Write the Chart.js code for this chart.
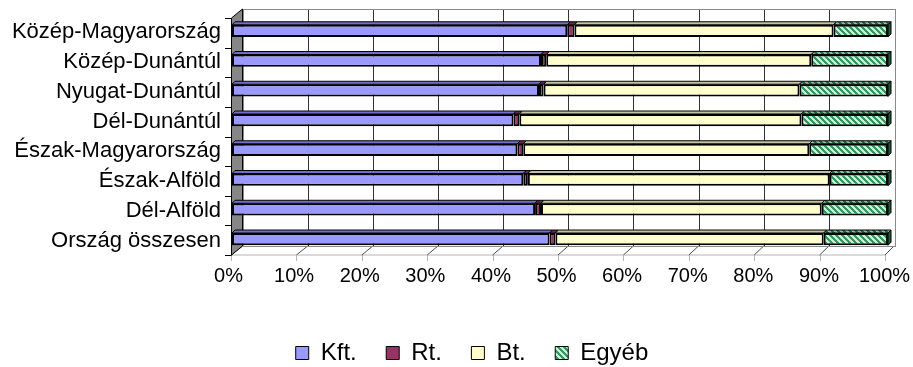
<!DOCTYPE html>
<html>
<head>
<meta charset="utf-8">
<script src="https://cdn.jsdelivr.net/npm/chart.js@4.4.1/dist/chart.umd.min.js"></script>
<style>
  html, body { margin: 0; padding: 0; background: #ffffff; overflow: hidden; }
  #wrap { width: 913px; height: 367px; }
</style>
</head>
<body>
<div id="wrap"><canvas id="c" width="913" height="367"></canvas></div>
<script>
// Regions (top to bottom)
const regions = [
  'Közép-Magyarország', 'Közép-Dunántúl', 'Nyugat-Dunántúl', 'Dél-Dunántúl',
  'Észak-Magyarország', 'Észak-Alföld', 'Dél-Alföld', 'Ország összesen'
];
// Share of company forms per region, %
const kft   = [51.1, 47.1, 46.8, 42.9, 43.5, 44.4, 46.2, 48.4];
const rt    = [1.1, 0.8, 0.7, 0.9, 0.9, 0.7, 0.9, 0.9];
const bt    = [39.5, 40.4, 39.0, 43.0, 43.6, 46.0, 42.8, 40.9];
const egyeb = [8.3, 11.7, 13.5, 13.2, 12.0, 8.9, 10.1, 9.8];
const seriesNames = ['Kft.', 'Rt.', 'Bt.', 'Egyéb'];
const xTickLabels = ['0%', '10%', '20%', '30%', '40%', '50%', '60%', '70%', '80%', '90%', '100%'];

const FONT = "'Liberation Sans', Arial, sans-serif";
const canvas = document.getElementById('c');
const mainCtx = canvas.getContext('2d');

// diagonal hatch used for the "Egyéb" series
function hatch(fg, bg) {
  const t = document.createElement('canvas');
  t.width = 6; t.height = 6;
  const g = t.getContext('2d');
  g.fillStyle = bg; g.fillRect(0, 0, 6, 6);
  g.fillStyle = fg;
  for (let yy = 0; yy < 6; yy++)
    for (let xx = 0; xx < 6; xx++)
      if ((((xx - yy) % 6) + 6) % 6 < 3) g.fillRect(xx, yy, 1, 1);
  return mainCtx.createPattern(t, 'repeat');
}
const greenHatch = hatch('#2f9960', '#cdeed6');
const greenHatchDark = hatch('#236b47', '#93bfa0');

const topColors = ['#7070cc', '#6e2448', '#c4c4a0', greenHatchDark];
const DEPTH = 3;

// Walls, floor and back gridlines of the 3-D box
const boxPlugin = {
  id: 'box3d',
  beforeDatasetsDraw(chart) {
    const { ctx, chartArea: a, scales } = chart;
    const x = scales.x, y = scales.y;
    const fL = a.left - 1, fR = a.right - 3, fT = a.top + 2, fB = a.bottom + 1;
    const bL = a.left + 10.5, bR = a.right + 6, bT = a.top - 7, bB = a.bottom - 8;
    const frac = v => (x.getPixelForValue(v) - a.left) / a.width;
    const fx = v => fL + frac(v) * (fR - fL);
    const bx = v => bL + frac(v) * (bR - bL);
    const vals = x.ticks.map(t => t.value);

    ctx.save();
    ctx.lineWidth = 1;

    // floor
    ctx.beginPath();
    ctx.moveTo(fL, fB); ctx.lineTo(bL, bB); ctx.lineTo(bR, bB); ctx.lineTo(fR, fB); ctx.closePath();
    ctx.fillStyle = '#ffffff'; ctx.fill();
    ctx.strokeStyle = '#b4b4b4'; ctx.stroke();

    // back wall
    ctx.fillStyle = '#ffffff';
    ctx.fillRect(bL, bT, bR - bL, bB - bT);

    // back gridlines and their run across the floor
    ctx.strokeStyle = '#333333';
    vals.forEach(v => {
      const px = Math.round(bx(v)) + 0.5;
      if (v > 0 && v < 100) {
        ctx.beginPath(); ctx.moveTo(px, bT); ctx.lineTo(px, bB); ctx.stroke();
      }
    });
    ctx.strokeStyle = '#505050';
    vals.forEach(v => {
      ctx.beginPath(); ctx.moveTo(fx(v), fB); ctx.lineTo(bx(v), bB); ctx.stroke();
    });

    // back wall outline
    ctx.strokeStyle = '#8a8a8a';
    ctx.strokeRect(Math.round(bL) + 0.5, Math.round(bT) + 0.5, Math.round(bR - bL), Math.round(bB - bT));

    // floor front tick marks
    ctx.strokeStyle = '#b4b4b4';
    vals.forEach(v => {
      const px = Math.round(fx(v)) + 0.5;
      ctx.beginPath(); ctx.moveTo(px, fB); ctx.lineTo(px, fB + 6); ctx.stroke();
    });

    // left wall
    ctx.beginPath();
    ctx.moveTo(fL + 0.5, fT); ctx.lineTo(bL, bT); ctx.lineTo(bL, bB); ctx.lineTo(fL + 0.5, fB); ctx.closePath();
    ctx.fillStyle = '#868686'; ctx.fill();
    ctx.strokeStyle = '#000000'; ctx.stroke();

    // category tick marks along the front edge of the wall
    const n = y.ticks.length;
    ctx.strokeStyle = '#000000';
    for (let i = 0; i <= n; i++) {
      const py = Math.round(fT + i * (fB - fT) / n) + 0.5;
      ctx.beginPath(); ctx.moveTo(fL - 6, py); ctx.lineTo(fL + 0.5, py); ctx.stroke();
    }
    ctx.restore();
  },
  afterDatasetsDraw(chart) {
    const { ctx } = chart;
    const last = chart.data.datasets.length - 1;
    ctx.save();
    ctx.lineWidth = 1;
    ctx.strokeStyle = '#000000';
    chart.data.datasets.forEach((ds, di) => {
      const meta = chart.getDatasetMeta(di);
      meta.data.forEach(el => {
        const p = el.getProps(['x', 'y', 'base', 'height'], true);
        const x0 = Math.min(p.x, p.base), x1 = Math.max(p.x, p.base);
        const yT = p.y - p.height / 2, yB = p.y + p.height / 2;
        // top face
        ctx.beginPath();
        ctx.moveTo(x0, yT); ctx.lineTo(x0 + DEPTH, yT - DEPTH);
        ctx.lineTo(x1 + DEPTH, yT - DEPTH); ctx.lineTo(x1, yT); ctx.closePath();
        ctx.fillStyle = topColors[di]; ctx.fill(); ctx.stroke();
        // right end face of the whole stack
        if (di === last) {
          ctx.beginPath();
          ctx.moveTo(x1, yT); ctx.lineTo(x1 + DEPTH, yT - DEPTH);
          ctx.lineTo(x1 + DEPTH, yB - DEPTH); ctx.lineTo(x1, yB); ctx.closePath();
          ctx.fillStyle = '#1f5c3a'; ctx.fill(); ctx.stroke();
        }
      });
    });
    ctx.restore();
  }
};

const fills = ['#9999ff', '#993366', '#ffffcc', greenHatch];
const seriesData = [kft, rt, bt, egyeb];

new Chart(canvas, {
  type: 'bar',
  data: {
    labels: regions,
    datasets: seriesNames.map((name, i) => ({
      label: name,
      data: seriesData[i],
      backgroundColor: fills[i],
      borderColor: '#000000',
      borderWidth: 2,
      borderSkipped: false,
      barPercentage: 0.41,
      categoryPercentage: 1
    }))
  },
  options: {
    indexAxis: 'y',
    responsive: false,
    animation: false,
    devicePixelRatio: 1,
    layout: { padding: { left: 5, right: -26, top: 16, bottom: -8 } },
    scales: {
      x: {
        stacked: true,
        min: 0, max: 100,
        ticks: {
          stepSize: 10,
          autoSkip: false,
          maxRotation: 0,
          padding: 10,
          labelOffset: -3.5,
          color: '#000000',
          font: { family: FONT, size: 20 },
          callback: (v, i) => xTickLabels[i]
        },
        grid: { display: false, drawTicks: false },
        border: { display: false },
        afterFit: s => { s.height = 57.5; s.paddingLeft = 0; s.paddingRight = 0; }
      },
      y: {
        stacked: true,
        ticks: {
          autoSkip: false,
          padding: 11,
          labelOffset: 1.5,
          color: '#000000',
          font: { family: FONT, size: 22 }
        },
        grid: { display: false, drawTicks: false },
        border: { display: false },
        afterFit: s => { s.width = 227; s.paddingTop = 0; s.paddingBottom = 0; }
      },
      // empty right-hand gutter so the plot ends where the legend stays centred
      gutter: {
        type: 'linear',
        axis: 'y',
        position: 'right',
        ticks: { display: false },
        grid: { display: false, drawTicks: false },
        border: { display: false },
        afterFit: s => { s.width = 51; s.paddingTop = 0; s.paddingBottom = 0; }
      }
    },
    plugins: {
      tooltip: { enabled: false },
      legend: {
        position: 'bottom',
        labels: {
          boxWidth: 13,
          boxHeight: 13,
          padding: 29.5,
          color: '#000000',
          font: { family: FONT, size: 24 },
          generateLabels(chart) {
            const items = Chart.defaults.plugins.legend.labels.generateLabels(chart);
            items.forEach(it => { it.lineWidth = 1; it.strokeStyle = '#000000'; });
            return items;
          }
        }
      }
    }
  },
  plugins: [boxPlugin]
});
</script>
</body>
</html>
